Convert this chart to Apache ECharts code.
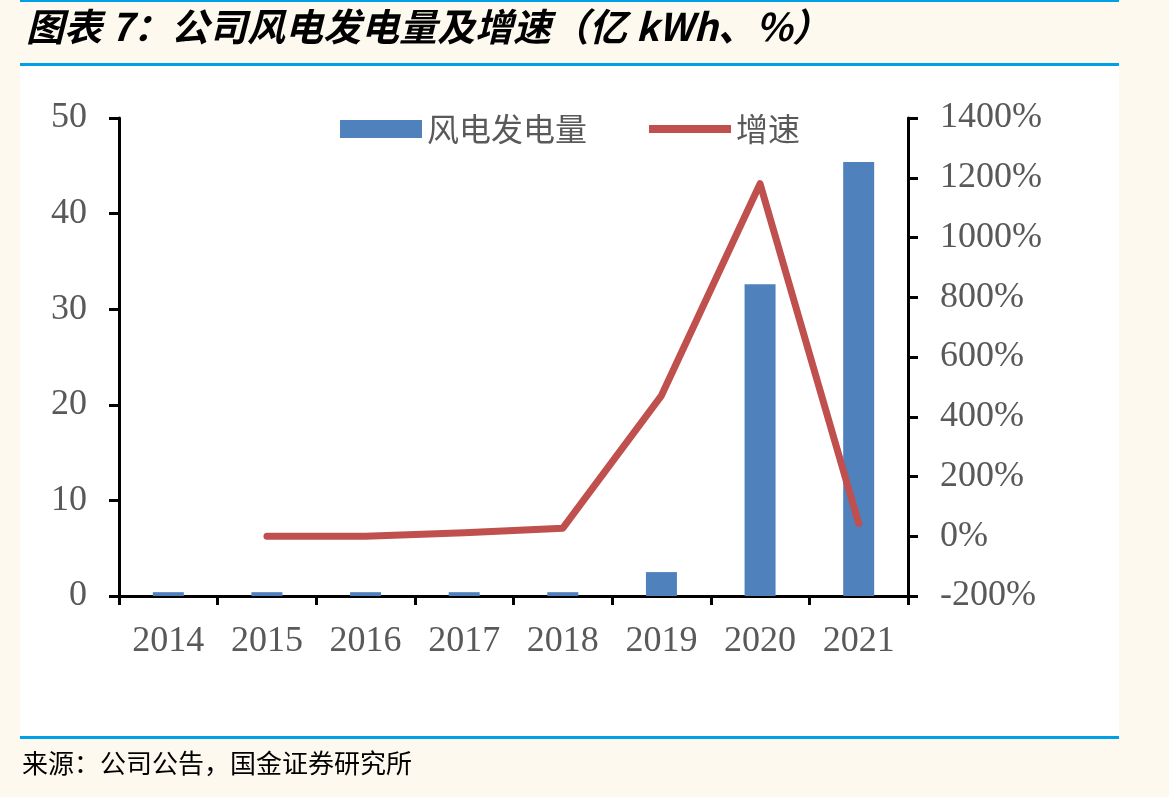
<!DOCTYPE html>
<html>
<head>
<meta charset="utf-8">
<script src="https://cdn.jsdelivr.net/npm/echarts@6/dist/echarts.min.js"></script>
<style>
  html, body { margin: 0; padding: 0; background: #fef9ef; }
  #main { width: 1169px; height: 797px; }
</style>
</head>
<body>
<div id="main"></div>
<script>
var years = ['2014', '2015', '2016', '2017', '2018', '2019', '2020', '2021'];
var windPower = [0.4, 0.4, 0.4, 0.4, 0.4, 2.5, 32.6, 45.4];
var growth = [null, 0, 0, 12, 27, 471, 1180, 43];
var leftTicks = [0, 50, 10];
var rightTicks = [-200, 1400, 200];

var serif = '"Liberation Serif", "Noto Sans CJK SC", serif';
var cjk = '"Noto Sans CJK SC", sans-serif';

var myChart = echarts.init(document.getElementById('main'));

var option = {
    backgroundColor: '#fef9ef',
    animation: false,
    graphic: [
        { type: 'rect', shape: { x: 20, y: 66, width: 1099, height: 670 }, style: { fill: '#ffffff' }, z: -10 },
        { type: 'rect', shape: { x: 20, y: 0, width: 1099, height: 2 }, style: { fill: '#00a0e9' } },
        { type: 'rect', shape: { x: 20, y: 63, width: 1099, height: 3 }, style: { fill: '#00a0e9' } },
        { type: 'rect', shape: { x: 20, y: 736, width: 1099, height: 3 }, style: { fill: '#00a0e9' } },
        {
            type: 'text', left: 26, top: 8,
            style: { text: '图表 7：公司风电发电量及增速（亿 kWh、%）', font: 'italic bold 38px ' + cjk, fill: '#000' }
        },
        {
            type: 'text', left: 22, top: 750,
            style: { text: '来源：公司公告，国金证券研究所', font: '26px ' + cjk, fill: '#000' }
        }
    ],
    legend: {
        top: 108,
        left: 335,
        itemWidth: 82,
        itemHeight: 18,
        itemGap: 62,
        textStyle: { fontFamily: cjk, fontSize: 32, color: '#595959' },
        data: [
            { name: '风电发电量', icon: 'rect' },
            { name: '增速', icon: 'path://M0,0 M0,18 M0,5 L82,5 L82,13 L0,13 Z', itemStyle: { color: '#c0504d' } }
        ]
    },
    grid: { left: 119, right: 261, top: 118, bottom: 201, containLabel: false },
    xAxis: {
        type: 'category',
        data: years,
        axisLine: { lineStyle: { color: '#000', width: 3 } },
        axisTick: { show: true, length: 9, lineStyle: { color: '#000', width: 3 } },
        axisLabel: { fontFamily: serif, fontSize: 36, color: '#595959', margin: 28 }
    },
    yAxis: [
        {
            type: 'value',
            min: leftTicks[0], max: leftTicks[1], interval: leftTicks[2],
            axisLine: { show: true, lineStyle: { color: '#000', width: 3 } },
            axisTick: { show: true, length: 10, lineStyle: { color: '#000', width: 3 } },
            splitLine: { show: false },
            axisLabel: { fontFamily: serif, fontSize: 36, color: '#595959', margin: 32 }
        },
        {
            type: 'value',
            min: rightTicks[0], max: rightTicks[1], interval: rightTicks[2],
            axisLine: { show: true, lineStyle: { color: '#000', width: 3 } },
            axisTick: { show: true, length: 10, lineStyle: { color: '#000', width: 3 } },
            splitLine: { show: false },
            axisLabel: {
                fontFamily: serif, fontSize: 36, color: '#595959', margin: 32,
                formatter: function (v) { return v + '%'; }
            }
        }
    ],
    series: [
        {
            name: '风电发电量',
            type: 'bar',
            data: windPower,
            barWidth: 31,
            itemStyle: { color: '#4f81bd' }
        },
        {
            name: '增速',
            type: 'line',
            yAxisIndex: 1,
            data: growth,
            symbol: 'none',
            lineStyle: { color: '#c0504d', width: 7, cap: 'round', join: 'round' },
            itemStyle: { color: '#c0504d' }
        }
    ]
};

myChart.setOption(option);
</script>
</body>
</html>
